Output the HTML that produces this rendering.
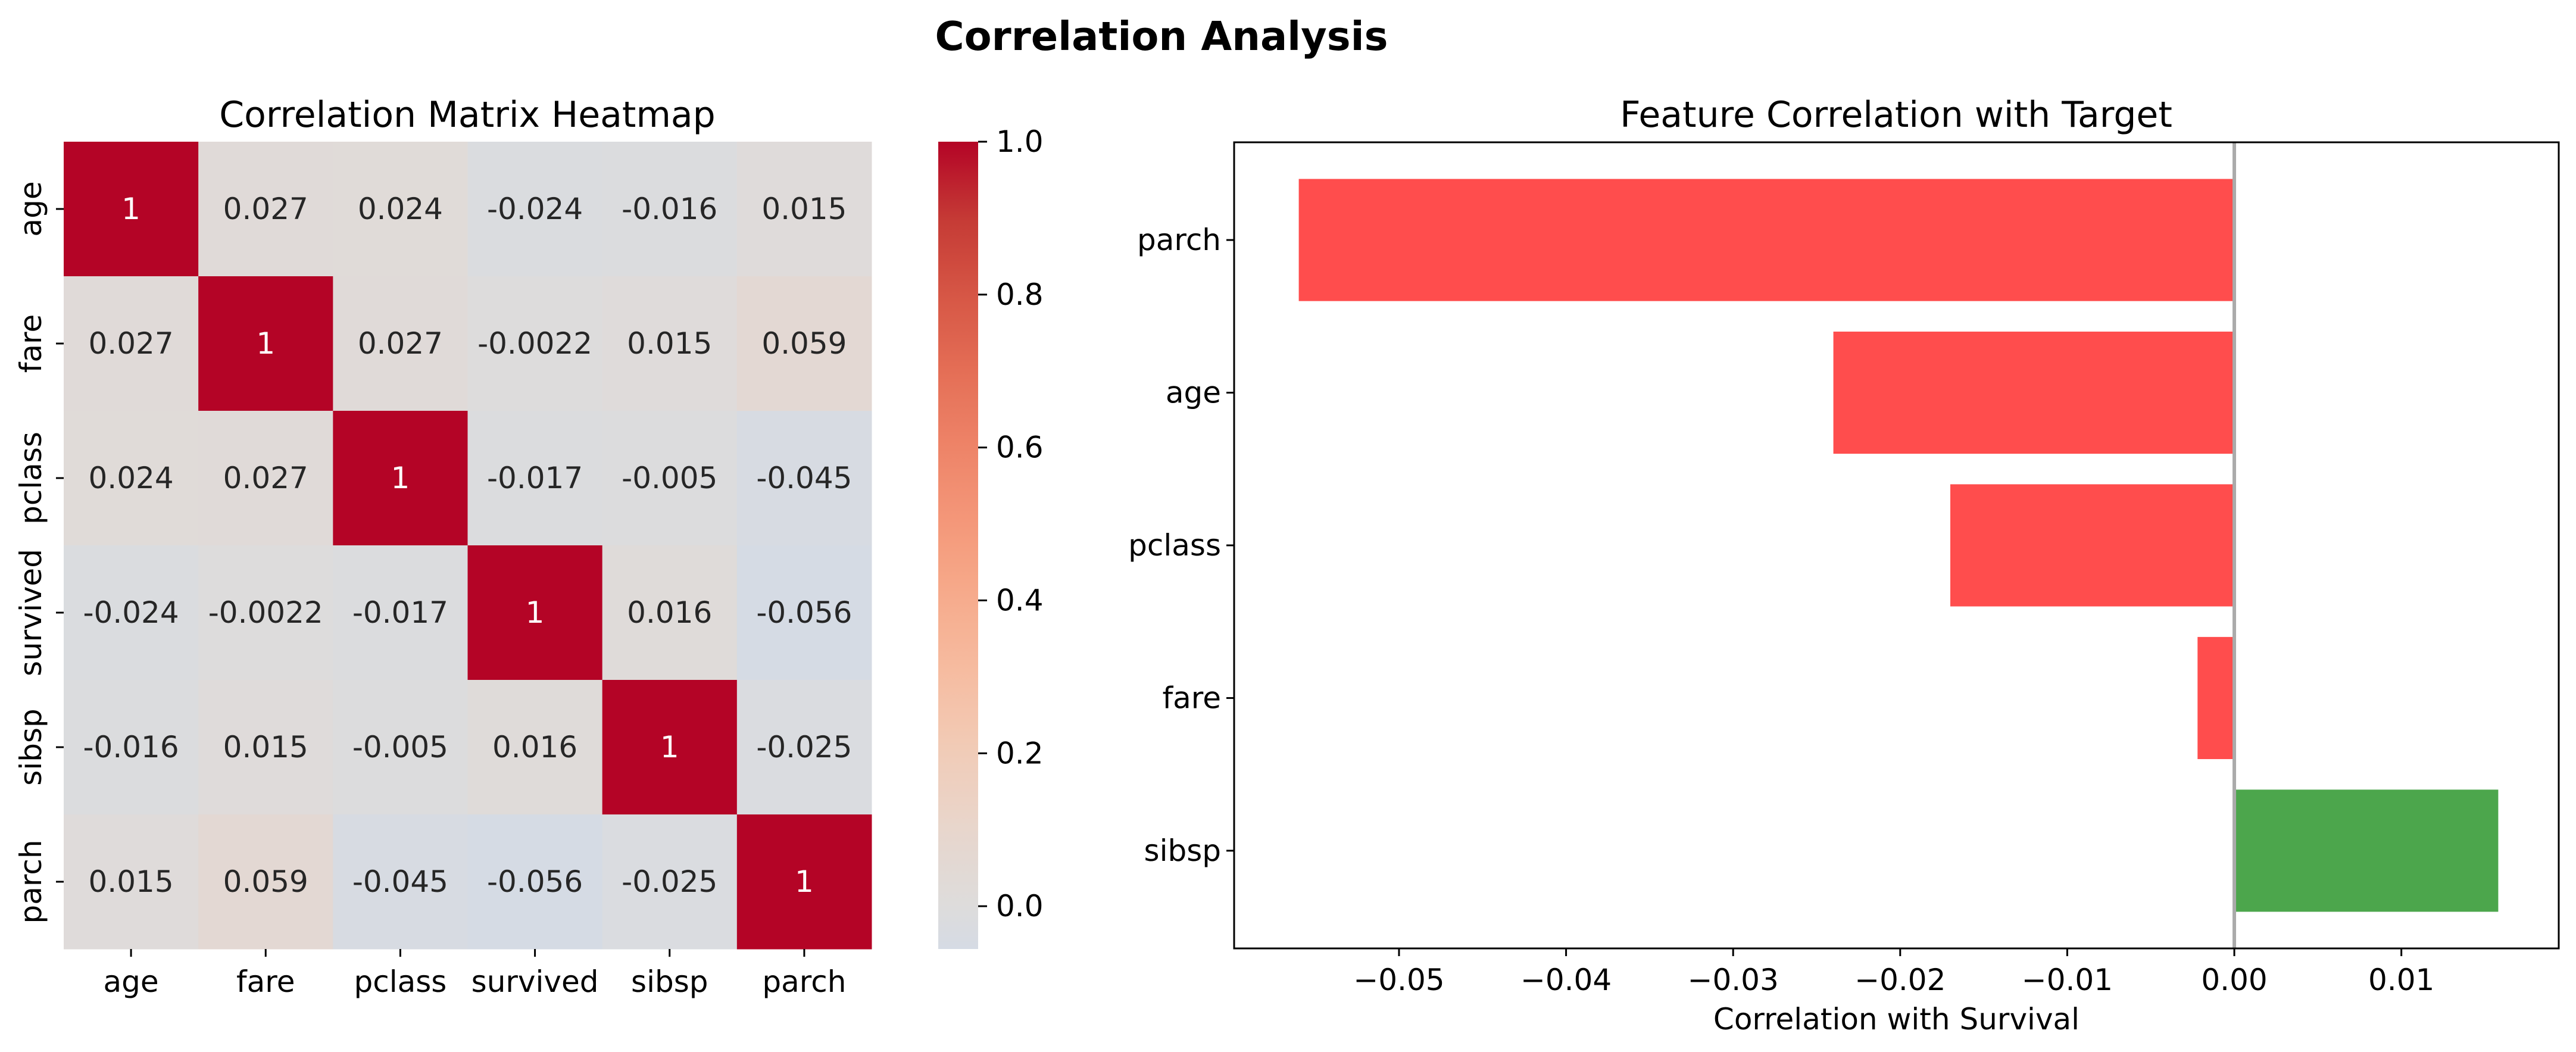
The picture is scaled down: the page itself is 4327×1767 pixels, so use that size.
<!DOCTYPE html>
<html><head><meta charset="utf-8"><style>
html,body{margin:0;padding:0;background:#fff;}
svg{display:block;font-family:"DejaVu Sans","Liberation Sans",sans-serif;}
</style></head><body>
<svg id="chart" xmlns="http://www.w3.org/2000/svg" width="4327" height="1767" viewBox="0 0 4327 1767">
<rect width="4327" height="1767" fill="#fff"/>
<text x="1951" y="61" font-size="67" font-weight="bold" text-anchor="middle" dominant-baseline="central">Correlation Analysis</text>
<text x="785" y="193" font-size="60" text-anchor="middle" dominant-baseline="central">Correlation Matrix Heatmap</text>
<text x="3185" y="193" font-size="60" text-anchor="middle" dominant-baseline="central">Feature Correlation with Target</text>
<defs><linearGradient id="cbgrad" x1="0" y1="1" x2="0" y2="0"></linearGradient></defs>
<g id="heat"></g><g id="cbar"></g><g id="bars"></g>
</svg>
<script>
const features = ["age","fare","pclass","survived","sibsp","parch"];
const corrRow0 = [1, 0.027, 0.024, -0.024, -0.016, 0.015];
const corrRow1 = [0.027, 1, 0.027, -0.0022, 0.015, 0.059];
const corrRow2 = [0.024, 0.027, 1, -0.017, -0.005, -0.045];
const corrRow3 = [-0.024, -0.0022, -0.017, 1, 0.016, -0.056];
const corrRow4 = [-0.016, 0.015, -0.005, 0.016, 1, -0.025];
const corrRow5 = [0.015, 0.059, -0.045, -0.056, -0.025, 1];
const cbarTicks = [0.0, 0.2, 0.4, 0.6, 0.8, 1.0];
const barFeatures = ["parch","age","pclass","fare","sibsp"];
const barValues = [-0.056, -0.024, -0.017, -0.0022, 0.0158];
const xTicks = [-0.05, -0.04, -0.03, -0.02, -0.01, 0.00, 0.01];
const xTickLabels = ["\u22120.05","\u22120.04","\u22120.03","\u22120.02","\u22120.01","0.00","0.01"];

const NS = "http://www.w3.org/2000/svg";
const FS = 50;
function mk(tag, attrs, parent, text){const e=document.createElementNS(NS,tag);for(const k in attrs)e.setAttribute(k,attrs[k]);if(text!==undefined)e.textContent=text;parent.appendChild(e);return e;}
const cw=[[0,[59,76,192]],[0.25,[141,176,254]],[0.4,[192,212,245]],[0.45,[207,218,234]],[0.5,[221,220,220]],[0.55,[232,214,204]],[0.6,[241,204,184]],[0.65,[246,189,162]],[0.7,[246,172,141]],[0.75,[244,152,122]],[0.8,[238,132,104]],[0.85,[228,110,86]],[0.9,[214,86,69]],[0.95,[197,58,53]],[1,[180,4,38]]];
function coolwarm(t){t=Math.max(0,Math.min(1,t));for(let i=1;i<cw.length;i++){if(t<=cw[i][0]){const a=cw[i-1],b=cw[i];const f=(t-a[0])/(b[0]-a[0]);const c=a[1].map((v,j)=>Math.round(v+(b[1][j]-v)*f));return `rgb(${c.join(",")})`;}}return "rgb(180,4,38)";}
function colorOf(v){return coolwarm((v+1)/2);}

// Heatmap
const rows=[corrRow0,corrRow1,corrRow2,corrRow3,corrRow4,corrRow5];
const hx0=107,hx1=1464,hy0=238,hy1=1594;
const cwid=(hx1-hx0)/features.length, chei=(hy1-hy0)/features.length;
const heat=document.getElementById("heat");
rows.forEach((row,i)=>{row.forEach((v,j)=>{
  const r=mk("rect",{x:hx0+j*cwid,y:hy0+i*chei,width:cwid+0.5,height:chei+0.5,fill:colorOf(v)},heat);
  
  
  const t=mk("text",{x:hx0+(j+0.5)*cwid,y:hy0+(i+0.5)*chei,"font-size":FS,"text-anchor":"middle","dominant-baseline":"central",fill:v>0.5?"#fff":"#262626"},heat,String(v));
  
  
});});
features.forEach((f,i)=>{
  const cy=hy0+(i+0.5)*chei, cx=hx0+(i+0.5)*cwid;
  mk("line",{x1:hx0-13,x2:hx0,y1:cy,y2:cy,stroke:"#000","stroke-width":3},heat);
  const yl=mk("text",{x:0,y:0,"font-size":FS,"text-anchor":"middle","dominant-baseline":"central",transform:`translate(${hx0-55},${cy}) rotate(-90)`},heat,f);
  
  
  mk("line",{x1:cx,x2:cx,y1:hy1,y2:hy1+13,stroke:"#000","stroke-width":3},heat);
  const xl=mk("text",{x:cx,y:hy1+55,"font-size":FS,"text-anchor":"middle","dominant-baseline":"central"},heat,f);
  
  
});

// Colorbar
const allV=rows.flat();const vmin=Math.min(...allV),vmax=Math.max(...allV);
const cbx0=1576,cbx1=1643;
const cy=v=>hy1-(v-vmin)/(vmax-vmin)*(hy1-hy0);
const grad=document.getElementById("cbgrad");
for(let k=0;k<=40;k++){const v=vmin+(vmax-vmin)*k/40;mk("stop",{offset:(k/40),"stop-color":colorOf(v)},grad);}
const cbar=document.getElementById("cbar");
const cb=mk("rect",{x:cbx0,y:hy0,width:cbx1-cbx0,height:hy1-hy0,fill:"url(#cbgrad)"},cbar);


cbarTicks.forEach(v=>{
  mk("line",{x1:cbx1,x2:cbx1+15,y1:cy(v),y2:cy(v),stroke:"#000","stroke-width":3},cbar);
  const t=mk("text",{x:cbx1+30,y:cy(v),"font-size":FS,"dominant-baseline":"central"},cbar,v.toFixed(1));
  
  
});

// Bar chart
const bx0=2073,bx1=4298,by0=239,by1=1593;
const xmin=-0.05987,xmax=0.01942;
const X=v=>bx0+(v-xmin)/(xmax-xmin)*(bx1-bx0);
const n=barFeatures.length;
const ylo=-0.4-0.24,yhi=(n-1)+0.4+0.24;
const Y=p=>by0+(p-ylo)/(yhi-ylo)*(by1-by0);
const bars=document.getElementById("bars");
barValues.forEach((v,i)=>{
  const x=Math.min(X(0),X(v)),w=Math.abs(X(v)-X(0));
  const r=mk("rect",{x:x,y:Y(i-0.4),width:w,height:Y(i+0.4)-Y(i-0.4),fill:v<0?"#ff4d4d":"#4ca64c"},bars);
  
  
  mk("line",{x1:bx0-13,x2:bx0,y1:Y(i),y2:Y(i),stroke:"#000","stroke-width":3},bars);
  const t=mk("text",{x:bx0-22,y:Y(i),"font-size":FS,"text-anchor":"end","dominant-baseline":"central"},bars,barFeatures[i]);
  
  
});
const zl=mk("line",{x1:X(0),x2:X(0),y1:by0,y2:by1,stroke:"#aaa","stroke-width":6},bars);


const fr=mk("rect",{x:bx0,y:by0,width:bx1-bx0,height:by1-by0,fill:"none",stroke:"#000","stroke-width":3},bars);


xTicks.forEach((v,i)=>{
  mk("line",{x1:X(v),x2:X(v),y1:by1,y2:by1+13,stroke:"#000","stroke-width":3},bars);
  const t=mk("text",{x:X(v),y:by1+53,"font-size":FS,"text-anchor":"middle","dominant-baseline":"central"},bars,xTickLabels[i]);
  
  
});
const xl=mk("text",{x:(bx0+bx1)/2,y:1712,"font-size":FS,"text-anchor":"middle","dominant-baseline":"central"},bars,"Correlation with Survival");


</script>
</body></html>
